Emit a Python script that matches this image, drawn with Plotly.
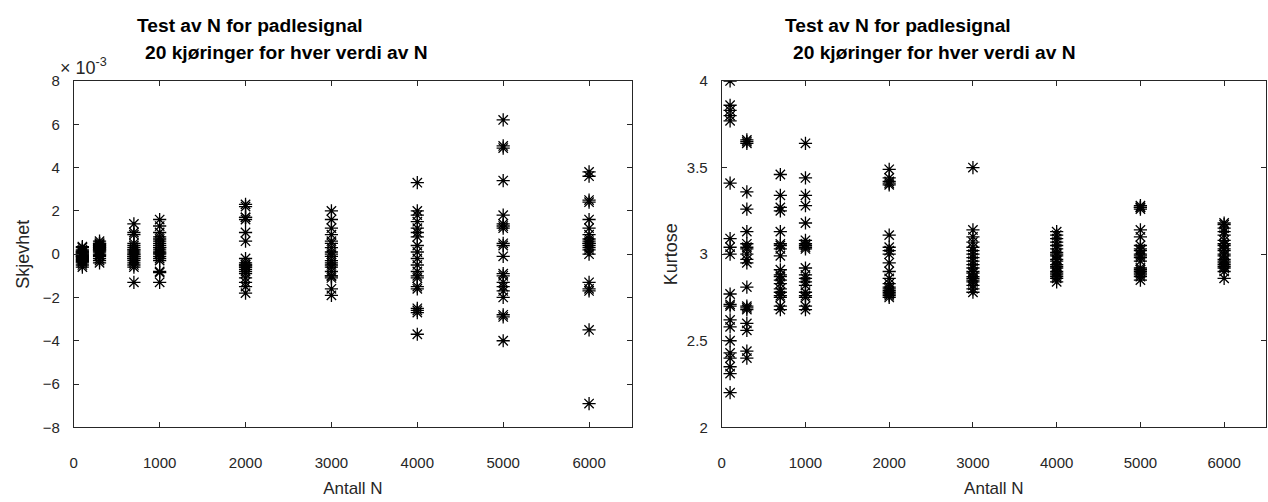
import plotly.graph_objects as go

W, H = 1268, 502

N_values = [100, 300, 700, 1000, 2000, 3000, 4000, 5000, 6000]

# Skjevhet (x 1e-3), 20 runs per N
skew_100 = [0.3, 0.2, 0.1, 0.0, -0.1, -0.2, -0.3, 0.05, -0.05, 0.15, -0.15, -0.25, -0.4, -0.6, 0.35, -0.35, 0.0, -0.1, 0.1, -0.5]
skew_300 = [0.6, 0.5, 0.45, 0.4, 0.35, 0.3, 0.25, 0.2, 0.1, 0.0, -0.1, -0.2, -0.3, -0.4, 0.3, 0.5, 0.15, -0.05, 0.4, 0.2]
skew_700 = [1.4, 1.0, 0.9, 0.5, 0.3, 0.2, 0.1, 0.0, -0.1, -0.2, -0.3, -0.4, -0.5, -0.6, 0.4, 0.0, -0.2, -1.3, -0.1, 0.2]
skew_1000 = [1.6, 1.3, 1.0, 0.8, 0.6, 0.5, 0.4, 0.3, 0.2, 0.1, 0.0, -0.1, -0.2, -0.3, -0.85, -1.3, 0.3, 0.05, 0.7, -0.8]
skew_2000 = [2.3, 2.2, 1.7, 1.6, 1.0, 0.6, -0.2, -0.4, -0.5, -0.6, -0.7, -0.8, -0.9, -0.5, -1.1, -1.3, -1.5, -1.8, -0.6, 1.7]
skew_3000 = [2.0, 1.6, 1.2, 0.9, 0.6, 0.5, 0.3, 0.1, -0.1, -0.3, -0.5, -0.6, -0.8, -1.0, -1.1, -1.0, -0.4, -1.6, -1.9, 0.0]
skew_4000 = [3.3, 2.0, 1.8, 1.5, 1.2, 1.0, 0.8, 0.4, 0.1, -0.2, -0.5, -0.8, -1.0, -1.1, -1.5, -1.6, -2.5, -2.6, -2.7, -3.7]
skew_5000 = [6.2, 5.0, 4.9, 3.4, 1.8, 1.4, 1.3, 0.5, 0.4, -0.1, -0.9, -1.0, -1.3, -1.5, -1.7, -2.0, -2.8, -2.9, -4.0, 1.2]
skew_6000 = [3.8, 3.6, 2.5, 2.4, 1.6, 1.2, 0.9, 0.7, 0.6, 0.5, 0.4, 0.3, 0.2, 0.0, 0.5, -1.3, -1.6, -1.7, -3.5, -6.9]

# Kurtose, 20 runs per N
kurt_100 = [4.0, 3.86, 3.83, 3.8, 3.77, 3.41, 3.09, 3.04, 3.0, 2.77, 2.71, 2.7, 2.62, 2.58, 2.5, 2.43, 2.4, 2.35, 2.31, 2.2]
kurt_300 = [3.66, 3.65, 3.64, 3.36, 3.26, 3.13, 3.06, 3.03, 3.0, 2.97, 2.95, 2.81, 2.7, 2.69, 2.68, 2.6, 2.56, 2.44, 2.4, 3.04]
kurt_700 = [3.46, 3.34, 3.27, 3.25, 3.13, 3.06, 3.05, 3.03, 2.99, 2.91, 2.88, 2.87, 2.85, 2.83, 2.80, 2.78, 2.76, 2.75, 2.70, 2.68]
kurt_1000 = [3.64, 3.44, 3.34, 3.28, 3.18, 3.08, 3.06, 3.05, 3.04, 3.03, 2.92, 2.88, 2.86, 2.84, 2.82, 2.78, 2.76, 2.75, 2.70, 2.68]
kurt_2000 = [3.49, 3.44, 3.42, 3.41, 3.40, 3.11, 3.04, 3.02, 3.0, 2.95, 2.9, 2.86, 2.83, 2.81, 2.8, 2.79, 2.78, 2.77, 2.76, 2.75]
kurt_3000 = [3.50, 3.14, 3.10, 3.07, 3.04, 3.02, 3.0, 2.98, 2.96, 2.94, 2.92, 2.90, 2.89, 2.87, 2.86, 2.85, 2.84, 2.82, 2.80, 2.78]
kurt_4000 = [3.13, 3.11, 3.09, 3.07, 3.05, 3.03, 3.01, 3.0, 2.99, 2.97, 2.96, 2.94, 2.93, 2.92, 2.90, 2.89, 2.88, 2.87, 2.86, 2.84]
kurt_5000 = [3.28, 3.27, 3.27, 3.26, 3.14, 3.10, 3.05, 3.03, 3.02, 3.0, 2.99, 2.98, 2.96, 2.92, 2.91, 2.90, 2.89, 2.88, 2.87, 2.85]
kurt_6000 = [3.18, 3.17, 3.15, 3.13, 3.11, 3.08, 3.06, 3.05, 3.03, 3.02, 3.0, 2.99, 2.97, 2.96, 2.95, 2.94, 2.93, 2.92, 2.90, 2.86]

skew_all = [skew_100, skew_300, skew_700, skew_1000, skew_2000, skew_3000, skew_4000, skew_5000, skew_6000]
kurt_all = [kurt_100, kurt_300, kurt_700, kurt_1000, kurt_2000, kurt_3000, kurt_4000, kurt_5000, kurt_6000]

x_ticks = [0, 1000, 2000, 3000, 4000, 5000, 6000]
skew_ticks = [-8, -6, -4, -2, 0, 2, 4, 6, 8]
kurt_ticks = [2, 2.5, 3, 3.5, 4]

title_line1 = "Test av N for padlesignal"
title_line2 = "20 kjøringer for hver verdi av N"

FONT = "Liberation Sans, Arial, Helvetica, sans-serif"
AX = "#262626"

xs, ys1, ys2 = [], [], []
for n, s, k in zip(N_values, skew_all, kurt_all):
    xs += [n] * len(s)
    ys1 += s
    ys2 += k

marker = dict(symbol="asterisk-open", size=11, color="black",
              line=dict(color="black", width=1.3))

fig = go.Figure()
fig.add_trace(go.Scatter(x=xs, y=ys1, mode="markers", marker=marker,
                         xaxis="x", yaxis="y", showlegend=False))
fig.add_trace(go.Scatter(x=xs, y=ys2, mode="markers", marker=marker,
                         xaxis="x2", yaxis="y2", showlegend=False))

ydom = [1 - 433 / H, 1 - 74.5 / H]

def xax(domain, anchor):
    return dict(domain=domain, anchor=anchor, range=[0, 6500], tickvals=x_ticks,
                ticks="inside", ticklen=5, tickcolor=AX, showline=True, mirror="ticks",
                linecolor=AX, linewidth=1, showgrid=False, zeroline=False,
                tickfont=dict(family=FONT, size=15, color=AX), ticklabelstandoff=22,
                title=dict(text="Antall N", font=dict(family=FONT, size=17, color=AX),
                           standoff=11))

def yax(domain, anchor, rng, tv, title, standoff):
    return dict(domain=domain, anchor=anchor, range=rng, tickvals=tv,
                ticks="inside", ticklen=5, tickcolor=AX, showline=True, mirror="ticks",
                linecolor=AX, linewidth=1, showgrid=False, zeroline=False,
                tickfont=dict(family=FONT, size=15, color=AX), ticklabelstandoff=10,
                title=dict(text=title, font=dict(family=FONT, size=18, color=AX),
                           standoff=standoff))

fig.update_layout(
    width=W, height=H,
    margin=dict(l=0, r=0, t=0, b=0),
    paper_bgcolor="white", plot_bgcolor="white",
    xaxis=xax([70 / W, 630 / W], "y"),
    yaxis=yax(ydom, "x", [-8, 8], skew_ticks, "Skjevhet", 8),
    xaxis2=xax([720 / W, 1266 / W], "y2"),
    yaxis2=yax(ydom, "x2", [2, 4], kurt_ticks, "Kurtose", 4),
)

annots = []
for x1, x2 in [(131, 139), (781, 789)]:
    annots.append(dict(text="<b>" + title_line1 + "</b>", x=x1 / W, y=1 - 17 / H,
                       xref="paper", yref="paper", xanchor="left", yanchor="middle",
                       showarrow=False, font=dict(family=FONT, size=19.2, color="black")))
    annots.append(dict(text="<b>" + title_line2 + "</b>", x=x2 / W, y=1 - 45 / H,
                       xref="paper", yref="paper", xanchor="left", yanchor="middle",
                       showarrow=False, font=dict(family=FONT, size=19.2, color="black")))
annots.append(dict(text="× 10<sup>-3</sup>", x=54 / W, y=1 - 60 / H, xref="paper", yref="paper",
                   xanchor="left", yanchor="middle", showarrow=False,
                   font=dict(family=FONT, size=18, color=AX)))
fig.update_layout(annotations=annots)

fig.write_html("out.html")
